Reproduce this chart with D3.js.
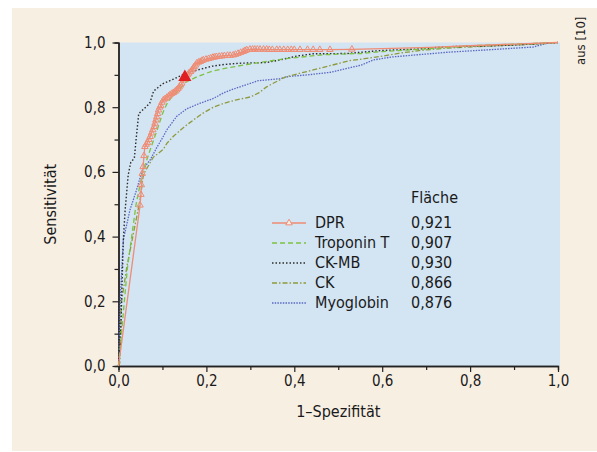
<!DOCTYPE html>
<html>
<head>
<meta charset="utf-8">
<script src="https://cdn.jsdelivr.net/npm/d3@7"></script>
<style>
  body { margin: 0; background: #fff; }
  svg text { font-family: "DejaVu Sans Condensed", "Liberation Sans Narrow", sans-serif; fill: #1a1a1a; }
</style>
</head>
<body>
<div id="chart"></div>
<script>
// ROC data: [1-Spezifität, Sensitivität]
const dprPoints = [
  [0, 0], [0.049, 0.497], [0.051, 0.53], [0.052, 0.56], [0.054, 0.595], [0.056, 0.616],
  [0.058, 0.65], [0.06, 0.678], [0.063, 0.685], [0.066, 0.69], [0.069, 0.7], [0.072, 0.709],
  [0.075, 0.72], [0.078, 0.73], [0.081, 0.74], [0.083, 0.75], [0.085, 0.76], [0.087, 0.77],
  [0.089, 0.78], [0.091, 0.791], [0.094, 0.8], [0.096, 0.805], [0.099, 0.815], [0.102, 0.822],
  [0.106, 0.826], [0.11, 0.83], [0.114, 0.834], [0.117, 0.838], [0.121, 0.842], [0.125, 0.845],
  [0.129, 0.849], [0.132, 0.853], [0.135, 0.857], [0.138, 0.862], [0.141, 0.868], [0.144, 0.874],
  [0.149, 0.884], [0.154, 0.894], [0.157, 0.9], [0.16, 0.905], [0.164, 0.91], [0.167, 0.915],
  [0.17, 0.92], [0.172, 0.925], [0.175, 0.93], [0.178, 0.936], [0.182, 0.939], [0.186, 0.941],
  [0.19, 0.944], [0.193, 0.946], [0.199, 0.948], [0.205, 0.95], [0.21, 0.952], [0.215, 0.954],
  [0.219, 0.955], [0.223, 0.956], [0.229, 0.957], [0.235, 0.958], [0.241, 0.959], [0.248, 0.96],
  [0.254, 0.96], [0.261, 0.961], [0.266, 0.963], [0.272, 0.966], [0.278, 0.969], [0.284, 0.972],
  [0.288, 0.975], [0.292, 0.977], [0.299, 0.979], [0.305, 0.979], [0.31, 0.979], [0.316, 0.979],
  [0.322, 0.979], [0.33, 0.979], [0.337, 0.979], [0.343, 0.978], [0.35, 0.978], [0.36, 0.978],
  [0.367, 0.978], [0.376, 0.978], [0.385, 0.978], [0.393, 0.978], [0.4, 0.978], [0.413, 0.978],
  [0.43, 0.978], [0.443, 0.978], [0.458, 0.978], [0.481, 0.978], [0.531, 0.979], [0.6, 0.981],
  [0.709, 0.985], [0.8, 0.99], [0.9, 0.995], [1, 1]
];
const tropPoints = [
  [0, 0], [0.008, 0.12], [0.02, 0.3], [0.03, 0.4], [0.04, 0.5], [0.055, 0.6], [0.065, 0.64],
  [0.075, 0.68], [0.088, 0.73], [0.1, 0.78], [0.11, 0.81], [0.12, 0.83], [0.135, 0.85],
  [0.154, 0.878], [0.18, 0.895], [0.214, 0.912], [0.25, 0.922], [0.292, 0.932], [0.34, 0.942],
  [0.379, 0.95], [0.43, 0.957], [0.466, 0.962], [0.519, 0.965], [0.552, 0.966], [0.6, 0.972],
  [0.686, 0.979], [0.8, 0.99], [0.9, 0.995], [1, 1]
];
const ckmbPoints = [
  [0, 0], [0.005, 0.1], [0.008, 0.25], [0.011, 0.39], [0.015, 0.48], [0.022, 0.59],
  [0.028, 0.63], [0.036, 0.642], [0.04, 0.7], [0.046, 0.78], [0.058, 0.795], [0.071, 0.812],
  [0.08, 0.85], [0.1, 0.872], [0.127, 0.888], [0.154, 0.905], [0.185, 0.917], [0.214, 0.927],
  [0.24, 0.932], [0.276, 0.936], [0.337, 0.938], [0.367, 0.946], [0.405, 0.958], [0.443, 0.965],
  [0.52, 0.966], [0.595, 0.975], [0.683, 0.98], [0.747, 0.987], [0.856, 0.99], [0.898, 0.992], [1, 1]
];
const ckPoints = [
  [0, 0], [0.003, 0.01], [0.007, 0.2], [0.019, 0.307], [0.034, 0.41], [0.049, 0.513],
  [0.056, 0.585], [0.06, 0.6], [0.079, 0.645], [0.102, 0.67], [0.11, 0.688], [0.125, 0.71],
  [0.14, 0.728], [0.155, 0.745], [0.17, 0.76], [0.19, 0.78], [0.216, 0.8], [0.24, 0.812],
  [0.266, 0.822], [0.301, 0.832], [0.32, 0.845], [0.336, 0.862], [0.352, 0.874], [0.379, 0.893],
  [0.413, 0.905], [0.44, 0.914], [0.483, 0.929], [0.526, 0.944], [0.56, 0.95], [0.596, 0.957],
  [0.64, 0.967], [0.683, 0.975], [0.75, 0.983], [0.856, 0.99], [0.95, 0.995], [1, 1]
];
const myoPoints = [
  [0, 0], [0.002, 0.1], [0.005, 0.234], [0.011, 0.39], [0.026, 0.482], [0.041, 0.544],
  [0.053, 0.6], [0.062, 0.62], [0.072, 0.637], [0.087, 0.675], [0.1, 0.705], [0.11, 0.73],
  [0.132, 0.771], [0.155, 0.795], [0.185, 0.812], [0.216, 0.827], [0.24, 0.845], [0.261, 0.856],
  [0.292, 0.87], [0.318, 0.882], [0.367, 0.888], [0.388, 0.895], [0.43, 0.9], [0.483, 0.908],
  [0.52, 0.92], [0.552, 0.93], [0.58, 0.946], [0.62, 0.955], [0.671, 0.961], [0.75, 0.97],
  [0.861, 0.979], [0.943, 0.986], [0.974, 0.997], [1, 1]
];

const seriesNames = ["DPR", "Troponin T", "CK-MB", "CK", "Myoglobin"];
const areaValues = ["0,921", "0,907", "0,930", "0,866", "0,876"];
const cutoffPoint = [0.151, 0.89];
const majorTicks = [0, 0.2, 0.4, 0.6, 0.8, 1.0];
const minorTicks = [0.1, 0.3, 0.5, 0.7, 0.9];

const W = 597, H = 452;
const plot = { left: 118.5, right: 558, top: 42.5, bottom: 366 };

const svg = d3.select("#chart").append("svg")
  .attr("width", W).attr("height", H);

// cream panel
svg.append("rect").attr("x", 12).attr("y", 8).attr("width", W - 12).attr("height", H - 9)
  .attr("fill", "#f8efe3");

const x = d3.scaleLinear().domain([0, 1]).range([plot.left, plot.right]);
const y = d3.scaleLinear().domain([0, 1]).range([plot.bottom, plot.top]);

// blue plot area
svg.append("rect")
  .attr("x", x(0) + 1.5).attr("y", y(1))
  .attr("width", x(1) - x(0) + 0.5).attr("height", y(0) - y(1))
  .attr("fill", "#d3e4f3");

const fmt = d => d3.format(".1f")(d).replace(".", ",");

// axes (major + minor ticks)
const axisStyle = g => {
  g.select(".domain").attr("stroke", "#222").attr("stroke-width", 1.4);
  g.selectAll(".tick line").attr("stroke", "#222").attr("stroke-width", 1.2);
  g.selectAll(".tick text").style("font-size", "15px").attr("fill", "#1a1a1a");
};

svg.append("g").attr("transform", `translate(0,${plot.bottom})`)
  .call(d3.axisBottom(x).tickValues(minorTicks).tickSize(4).tickFormat(""))
  .call(axisStyle);
svg.append("g").attr("transform", `translate(0,${plot.bottom})`)
  .call(d3.axisBottom(x).tickValues(majorTicks).tickSize(6).tickSizeOuter(0).tickPadding(3).tickFormat(fmt))
  .call(axisStyle);

svg.append("g").attr("transform", `translate(${plot.left},0)`)
  .call(d3.axisLeft(y).tickValues(minorTicks).tickSize(4).tickFormat(""))
  .call(axisStyle);
svg.append("g").attr("transform", `translate(${plot.left},0)`)
  .call(d3.axisLeft(y).tickValues(majorTicks).tickSize(6).tickSizeOuter(0).tickPadding(7).tickFormat(fmt))
  .call(axisStyle);

// axis titles
svg.append("text")
  .attr("x", (plot.left + plot.right) / 2).attr("y", 417)
  .attr("text-anchor", "middle").style("font-size", "16px")
  .text("1–Spezifität");

svg.append("text")
  .attr("transform", `translate(56,${(plot.top + plot.bottom) / 2}) rotate(-90)`)
  .attr("text-anchor", "middle").style("font-size", "16px")
  .text("Sensitivität");

// source note
svg.append("text")
  .attr("transform", "translate(585,65) rotate(-90)")
  .attr("text-anchor", "start").style("font-size", "13px").attr("fill", "#333")
  .text("aus [10]");

// curves
const line = d3.line().x(d => x(d[0])).y(d => y(d[1]));

const styles = [
  { data: dprPoints, color: "#ef8c74", dash: null, width: 1.3 },
  { data: tropPoints, color: "#7cc242", dash: "5,3", width: 1.3 },
  { data: ckmbPoints, color: "#2b2b2b", dash: "1.5,2", width: 1.4 },
  { data: ckPoints, color: "#8e9a3c", dash: "5,2,1.5,2", width: 1.3 },
  { data: myoPoints, color: "#5a68c4", dash: "1.5,1.2", width: 1.3 }
];

const curves = svg.append("g");
styles.slice().reverse().forEach(s => {
  curves.append("path")
    .datum(s.data)
    .attr("fill", "none")
    .attr("stroke", s.color)
    .attr("stroke-width", s.width)
    .attr("stroke-dasharray", s.dash)
    .attr("d", line);
});

// DPR hollow triangle markers
const tri = d3.symbol().type(d3.symbolTriangle).size(18);
curves.selectAll(".dprMark")
  .data(dprPoints.filter(d => d[0] > 0.04 && d[0] < 0.55))
  .join("path")
  .attr("class", "dprMark")
  .attr("transform", d => `translate(${x(d[0])},${y(d[1])})`)
  .attr("d", tri)
  .attr("fill", "none")
  .attr("stroke", "#ef8c74")
  .attr("stroke-width", 1);

// cutoff marker
svg.append("path")
  .attr("transform", `translate(${x(cutoffPoint[0])},${y(cutoffPoint[1]) - 1})`)
  .attr("d", d3.symbol().type(d3.symbolTriangle).size(75))
  .attr("fill", "#e02020");

// legend
const legend = svg.append("g");
const rowY = i => 223 + i * 20;

legend.append("text").attr("x", 411).attr("y", 203)
  .style("font-size", "16px").text("Fläche");

styles.forEach((s, i) => {
  legend.append("line")
    .attr("x1", 272).attr("x2", 306)
    .attr("y1", rowY(i)).attr("y2", rowY(i))
    .attr("stroke", s.color).attr("stroke-width", 1.3)
    .attr("stroke-dasharray", s.dash);
  legend.append("text").attr("x", 315).attr("y", rowY(i) + 5)
    .style("font-size", "16px").text(seriesNames[i]);
  legend.append("text").attr("x", 411).attr("y", rowY(i) + 5)
    .style("font-size", "16px").text(areaValues[i]);
});

legend.append("path")
  .attr("transform", `translate(289,${rowY(0)})`)
  .attr("d", tri)
  .attr("fill", "#f8efe3")
  .attr("stroke", "#ef8c74");
</script>
</body>
</html>
